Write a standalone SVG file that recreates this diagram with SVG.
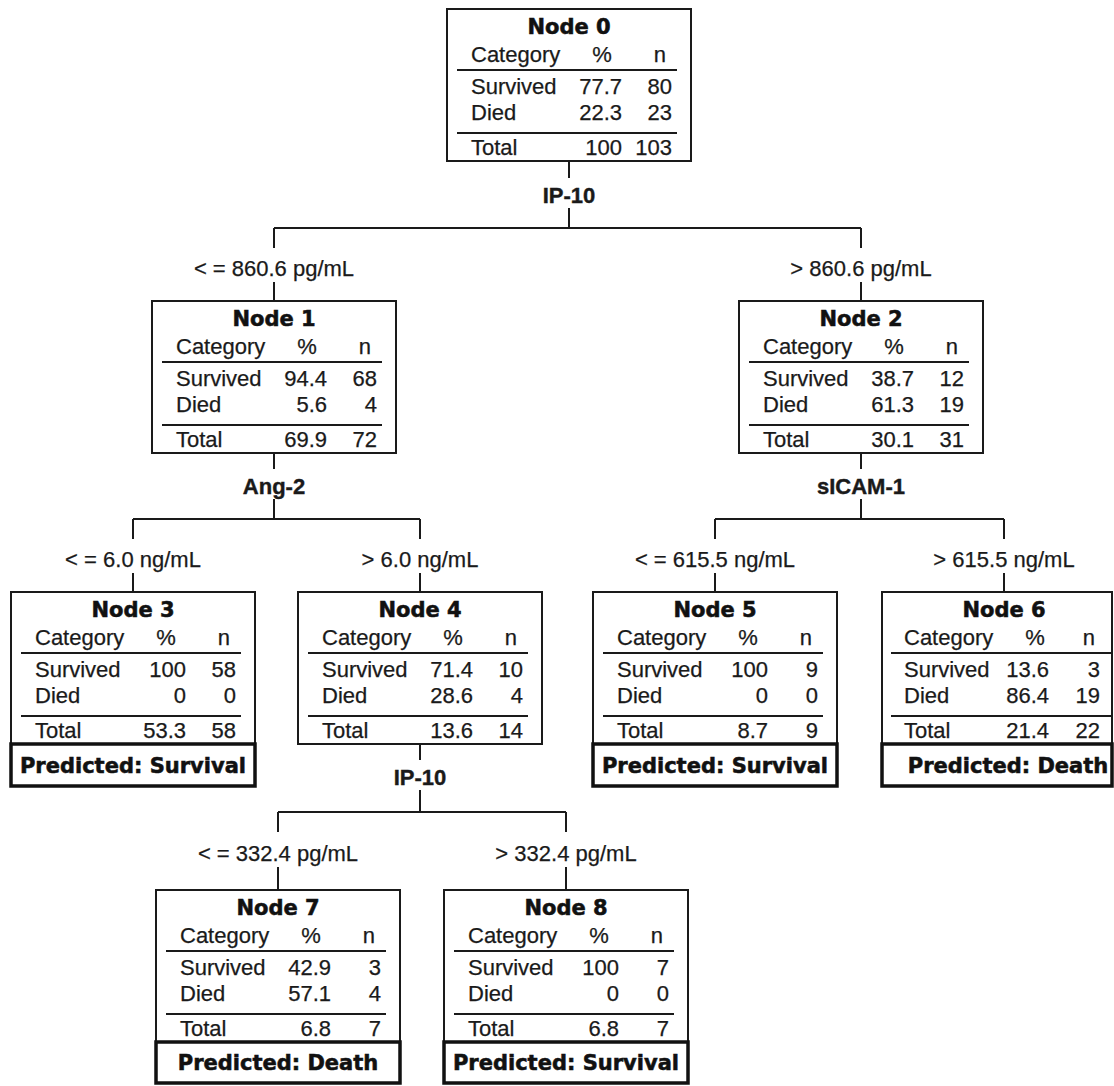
<svg xmlns="http://www.w3.org/2000/svg" width="1114" height="1086" viewBox="0 0 1114 1086">
<style>
  text { font-family: "Liberation Sans", Arial, sans-serif; font-size: 22px; fill: #1a1a1a; stroke: #1a1a1a; stroke-width: 0.25; }
  .m { text-anchor: middle; }
  .e { text-anchor: end; }
  .h { font-family: "DejaVu Sans", sans-serif; font-weight: bold; font-size: 21px; text-anchor: middle; fill: #111; stroke: #111; stroke-width: 0.55; }
  .lb { font-weight: bold; text-anchor: middle; stroke-width: 0.4; }
  .box { fill: #fff; stroke: #1a1a1a; stroke-width: 2; }
  .pbox { fill: #fff; stroke: #111; stroke-width: 3.5; }
  .rule { stroke: #1a1a1a; stroke-width: 2; }
  .conn { fill: none; stroke: #1a1a1a; stroke-width: 2; }
</style>
<rect width="1114" height="1086" fill="#fff"/>

<g id="connectors">
  <path class="conn" d="M569,162 V178 M569,208 V228 M274,228 H861 M274,228 V248 M861,228 V248 M274,282 V301 M861,282 V301"/>
  <path class="conn" d="M274,453 V469 M274,499 V519 M133,519 H420 M133,519 V539 M420,519 V539 M133,573 V592 M420,573 V592"/>
  <path class="conn" d="M861,453 V469 M861,499 V519 M715,519 H1004 M715,519 V539 M1004,519 V539 M715,573 V592 M1004,573 V592"/>
  <path class="conn" d="M420,744 V760 M420,790 V812 M278,812 H566 M278,812 V832 M566,812 V832 M278,867 V890 M566,867 V890"/>
  <text class="lb" x="569" y="203">IP-10</text>
  <text class="m" x="274" y="276">&lt; = 860.6 pg/mL</text>
  <text class="m" x="861" y="276">&gt; 860.6 pg/mL</text>
  <text class="lb" x="274" y="494">Ang-2</text>
  <text class="lb" x="861" y="494">sICAM-1</text>
  <text class="m" x="133" y="567">&lt; = 6.0 ng/mL</text>
  <text class="m" x="420" y="567">&gt; 6.0 ng/mL</text>
  <text class="m" x="715" y="567">&lt; = 615.5 ng/mL</text>
  <text class="m" x="1004" y="567">&gt; 615.5 ng/mL</text>
  <text class="lb" x="420" y="785">IP-10</text>
  <text class="m" x="278" y="861">&lt; = 332.4 pg/mL</text>
  <text class="m" x="566" y="861">&gt; 332.4 pg/mL</text>
</g>

<g id="node0" transform="translate(447,9)">
  <rect class="box" x="0" y="0" width="244" height="152"/>
  <text class="h" x="122" y="25">Node 0</text>
  <text x="24" y="53">Category</text><text class="m" x="155" y="53">%</text><text class="e" x="219" y="53">n</text>
  <line class="rule" x1="10" y1="61" x2="230" y2="61"/>
  <text x="24" y="85">Survived</text><text class="e" x="175" y="85">77.7</text><text class="e" x="225" y="85">80</text>
  <text x="24" y="111">Died</text><text class="e" x="175" y="111">22.3</text><text class="e" x="225" y="111">23</text>
  <line class="rule" x1="10" y1="124" x2="230" y2="124"/>
  <text x="24" y="146">Total</text><text class="e" x="175" y="146">100</text><text class="e" x="225" y="146">103</text>
</g>

<g id="node1" transform="translate(152,301)">
  <rect class="box" x="0" y="0" width="244" height="152"/>
  <text class="h" x="122" y="25">Node 1</text>
  <text x="24" y="53">Category</text><text class="m" x="155" y="53">%</text><text class="e" x="219" y="53">n</text>
  <line class="rule" x1="10" y1="61" x2="230" y2="61"/>
  <text x="24" y="85">Survived</text><text class="e" x="175" y="85">94.4</text><text class="e" x="225" y="85">68</text>
  <text x="24" y="111">Died</text><text class="e" x="175" y="111">5.6</text><text class="e" x="225" y="111">4</text>
  <line class="rule" x1="10" y1="124" x2="230" y2="124"/>
  <text x="24" y="146">Total</text><text class="e" x="175" y="146">69.9</text><text class="e" x="225" y="146">72</text>
</g>

<g id="node2" transform="translate(739,301)">
  <rect class="box" x="0" y="0" width="244" height="152"/>
  <text class="h" x="122" y="25">Node 2</text>
  <text x="24" y="53">Category</text><text class="m" x="155" y="53">%</text><text class="e" x="219" y="53">n</text>
  <line class="rule" x1="10" y1="61" x2="230" y2="61"/>
  <text x="24" y="85">Survived</text><text class="e" x="175" y="85">38.7</text><text class="e" x="225" y="85">12</text>
  <text x="24" y="111">Died</text><text class="e" x="175" y="111">61.3</text><text class="e" x="225" y="111">19</text>
  <line class="rule" x1="10" y1="124" x2="230" y2="124"/>
  <text x="24" y="146">Total</text><text class="e" x="175" y="146">30.1</text><text class="e" x="225" y="146">31</text>
</g>

<g id="node3" transform="translate(11,592)">
  <rect class="box" x="0" y="0" width="244" height="152"/>
  <text class="h" x="122" y="25">Node 3</text>
  <text x="24" y="53">Category</text><text class="m" x="155" y="53">%</text><text class="e" x="219" y="53">n</text>
  <line class="rule" x1="10" y1="61" x2="230" y2="61"/>
  <text x="24" y="85">Survived</text><text class="e" x="175" y="85">100</text><text class="e" x="225" y="85">58</text>
  <text x="24" y="111">Died</text><text class="e" x="175" y="111">0</text><text class="e" x="225" y="111">0</text>
  <line class="rule" x1="10" y1="124" x2="230" y2="124"/>
  <text x="24" y="146">Total</text><text class="e" x="175" y="146">53.3</text><text class="e" x="225" y="146">58</text>
  <rect class="pbox" x="0" y="152" width="244" height="42"/>
  <text class="h" x="122" y="181">Predicted: Survival</text>
</g>

<g id="node4" transform="translate(298,592)">
  <rect class="box" x="0" y="0" width="244" height="152"/>
  <text class="h" x="122" y="25">Node 4</text>
  <text x="24" y="53">Category</text><text class="m" x="155" y="53">%</text><text class="e" x="219" y="53">n</text>
  <line class="rule" x1="10" y1="61" x2="230" y2="61"/>
  <text x="24" y="85">Survived</text><text class="e" x="175" y="85">71.4</text><text class="e" x="225" y="85">10</text>
  <text x="24" y="111">Died</text><text class="e" x="175" y="111">28.6</text><text class="e" x="225" y="111">4</text>
  <line class="rule" x1="10" y1="124" x2="230" y2="124"/>
  <text x="24" y="146">Total</text><text class="e" x="175" y="146">13.6</text><text class="e" x="225" y="146">14</text>
</g>

<g id="node5" transform="translate(593,592)">
  <rect class="box" x="0" y="0" width="244" height="152"/>
  <text class="h" x="122" y="25">Node 5</text>
  <text x="24" y="53">Category</text><text class="m" x="155" y="53">%</text><text class="e" x="219" y="53">n</text>
  <line class="rule" x1="10" y1="61" x2="230" y2="61"/>
  <text x="24" y="85">Survived</text><text class="e" x="175" y="85">100</text><text class="e" x="225" y="85">9</text>
  <text x="24" y="111">Died</text><text class="e" x="175" y="111">0</text><text class="e" x="225" y="111">0</text>
  <line class="rule" x1="10" y1="124" x2="230" y2="124"/>
  <text x="24" y="146">Total</text><text class="e" x="175" y="146">8.7</text><text class="e" x="225" y="146">9</text>
  <rect class="pbox" x="0" y="152" width="244" height="42"/>
  <text class="h" x="122" y="181">Predicted: Survival</text>
</g>

<g id="node6" transform="translate(882,592)">
  <rect class="box" x="0" y="0" width="230" height="152"/>
  <text class="h" x="122" y="25">Node 6</text>
  <text x="22" y="53">Category</text><text class="m" x="153" y="53">%</text><text class="e" x="213" y="53">n</text>
  <line class="rule" x1="9" y1="61" x2="229" y2="61"/>
  <text x="22" y="85">Survived</text><text class="e" x="167" y="85">13.6</text><text class="e" x="218" y="85">3</text>
  <text x="22" y="111">Died</text><text class="e" x="167" y="111">86.4</text><text class="e" x="218" y="111">19</text>
  <line class="rule" x1="9" y1="124" x2="229" y2="124"/>
  <text x="22" y="146">Total</text><text class="e" x="167" y="146">21.4</text><text class="e" x="218" y="146">22</text>
  <rect class="pbox" x="0" y="152" width="230" height="42"/>
  <text class="h" x="126" y="181">Predicted: Death</text>
</g>

<g id="node7" transform="translate(156,890)">
  <rect class="box" x="0" y="0" width="244" height="152"/>
  <text class="h" x="122" y="25">Node 7</text>
  <text x="24" y="53">Category</text><text class="m" x="155" y="53">%</text><text class="e" x="219" y="53">n</text>
  <line class="rule" x1="10" y1="61" x2="230" y2="61"/>
  <text x="24" y="85">Survived</text><text class="e" x="175" y="85">42.9</text><text class="e" x="225" y="85">3</text>
  <text x="24" y="111">Died</text><text class="e" x="175" y="111">57.1</text><text class="e" x="225" y="111">4</text>
  <line class="rule" x1="10" y1="124" x2="230" y2="124"/>
  <text x="24" y="146">Total</text><text class="e" x="175" y="146">6.8</text><text class="e" x="225" y="146">7</text>
  <rect class="pbox" x="0" y="152" width="244" height="41"/>
  <text class="h" x="122" y="180">Predicted: Death</text>
</g>

<g id="node8" transform="translate(444,890)">
  <rect class="box" x="0" y="0" width="244" height="152"/>
  <text class="h" x="122" y="25">Node 8</text>
  <text x="24" y="53">Category</text><text class="m" x="155" y="53">%</text><text class="e" x="219" y="53">n</text>
  <line class="rule" x1="10" y1="61" x2="230" y2="61"/>
  <text x="24" y="85">Survived</text><text class="e" x="175" y="85">100</text><text class="e" x="225" y="85">7</text>
  <text x="24" y="111">Died</text><text class="e" x="175" y="111">0</text><text class="e" x="225" y="111">0</text>
  <line class="rule" x1="10" y1="124" x2="230" y2="124"/>
  <text x="24" y="146">Total</text><text class="e" x="175" y="146">6.8</text><text class="e" x="225" y="146">7</text>
  <rect class="pbox" x="0" y="152" width="244" height="41"/>
  <text class="h" x="122" y="180">Predicted: Survival</text>
</g>
</svg>
